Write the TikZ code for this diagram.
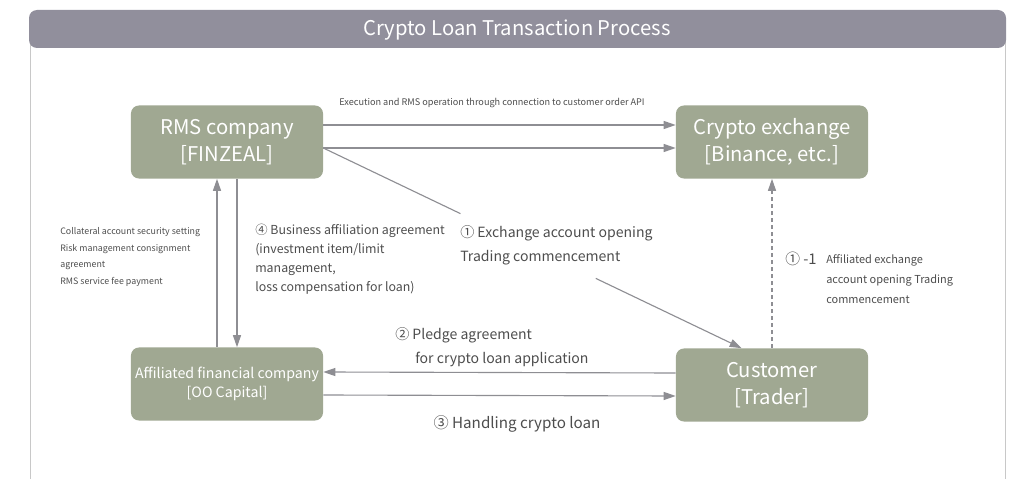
\documentclass[tikz,border=0pt]{standalone}
\usepackage{fontspec}
\setmainfont{Noto Sans CJK KR}
\usetikzlibrary{arrows.meta}
\definecolor{boxgreen}{HTML}{A0A892}
\definecolor{barcol}{HTML}{918F9C}
\definecolor{linecol}{HTML}{8E8E93}
\definecolor{txtcol}{HTML}{4D4D4D}
\definecolor{framecol}{HTML}{C8C8C8}

\begin{document}
\begin{tikzpicture}[x=0.025cm,y=-0.025cm,
  box/.style={fill=boxgreen,rounded corners=0.2cm,minimum width=4.8cm,minimum height=1.825cm,text=white,align=center,inner sep=0pt},
  arr/.style={draw=linecol,line width=0.8pt,-{Triangle[length=0.3cm,width=0.2cm]}},
  lbl/.style={text=txtcol,align=left,inner sep=0pt}]
\useasboundingbox (0,0) rectangle (1014,479);
% Frame and title bar
\draw[framecol,line width=0.6pt] (30,479) -- (30,20) (1005,20) -- (1005,479);
\fill[barcol,rounded corners=0.2cm] (29,10) rectangle (1006,48);
\node[text=white,font=\fontsize{14.4pt}{17pt}\selectfont] (title) at (517,30) {Crypto Loan Transaction Process};
% Boxes
\node[box,font=\fontsize{14.4pt}{19.2pt}\selectfont] (rms) at (227,142) {RMS company\\{}[FINZEAL]};
\node[box,font=\fontsize{14.4pt}{19.2pt}\selectfont] (exch) at (772,142) {Crypto exchange\\{}[Binance, etc.]};
\node[box,font=\fontsize{10.1pt}{13.5pt}\selectfont] (aff) at (227,384) {Affiliated financial company\\{}[OO Capital]};
\node[box,font=\fontsize{14.4pt}{19.2pt}\selectfont] (cust) at (772,385) {Customer\\{}[Trader]};
% Arrows
\draw[arr] ([yshift=0.425cm]rms.east) -- ([yshift=0.425cm]exch.west);
\draw[arr] ([yshift=-0.15cm]rms.east) -- ([yshift=-0.15cm]exch.west);
\draw[arr,dash pattern=on 3.8cm off 3.75cm on 6cm] ([yshift=-0.15cm]rms.east) -- ([xshift=1.65cm]cust.north west);
\draw[arr] ([xshift=-0.25cm]aff.north) -- ([xshift=-0.25cm]rms.south);
\draw[arr] ([xshift=0.25cm]rms.south) -- ([xshift=0.25cm]aff.north);
\draw[arr,dash pattern=on 0.1cm off 0.075cm] (cust.north) -- (exch.south);
\draw[arr] ([yshift=0.3cm]cust.west) -- ([yshift=0.3cm]aff.east);
\draw[arr] ([yshift=-0.275cm]aff.east) -- ([yshift=-0.275cm]cust.west);
% Labels
\node[lbl,font=\fontsize{6.5pt}{8pt}\selectfont] (exectxt) at (492,103) {Execution and RMS operation through connection to customer order API};
\node[lbl,anchor=west,font=\fontsize{6.3pt}{11.9pt}\selectfont] (lefttxt) at (60,257) {Collateral account security setting\\Risk management consignment\\agreement\\RMS service fee payment};
\node[lbl,anchor=west,font=\fontsize{8.8pt}{13.5pt}\selectfont] (bizlbl) at (255,259) {④ Business affiliation agreement\\(investment item/limit\\management,\\loss compensation for loan)};
\node[lbl,anchor=west,font=\fontsize{10pt}{17pt}\selectfont] (opnlbl) at (460,245) {① Exchange account opening\\Trading commencement};
\node[lbl,anchor=west,font=\fontsize{10.5pt}{12pt}\selectfont] (subnum) at (785,259) {① -1};
\node[lbl,anchor=west,font=\fontsize{7.8pt}{14.2pt}\selectfont] (sublbl) at (826,279) {Affiliated exchange\\account opening Trading\\commencement};
\node[lbl,anchor=west,font=\fontsize{10pt}{17pt}\selectfont] (pledge) at (395,347) {② Pledge agreement\\\hspace*{0.5cm}for crypto loan application};
\node[lbl,font=\fontsize{10.8pt}{13pt}\selectfont] (handle) at (517,424) {③ Handling crypto loan};
\end{tikzpicture}
\end{document}
